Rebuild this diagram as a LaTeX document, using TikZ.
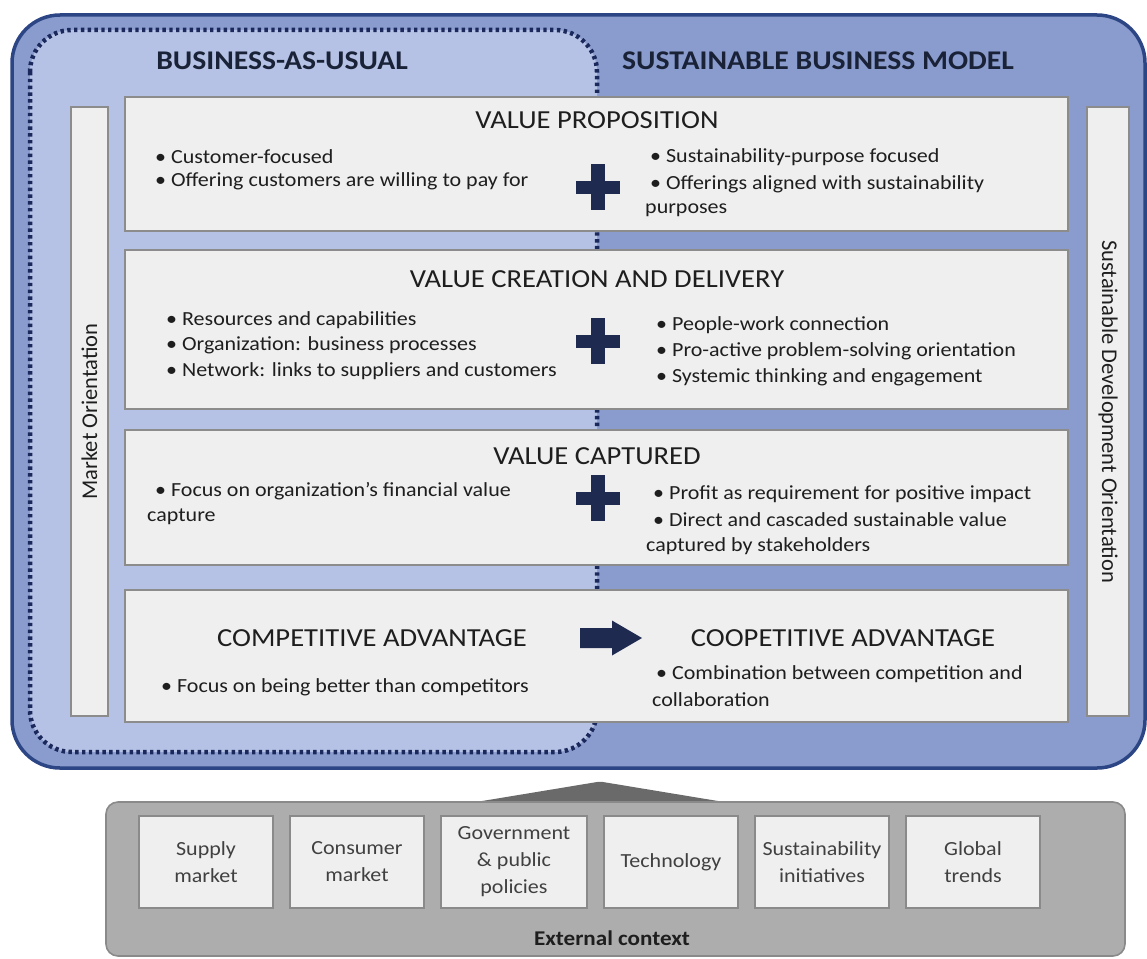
\documentclass[tikz,border=0pt]{standalone}
\usepackage{fontspec}
\setmainfont{Carlito}[FakeStretch=1.1]
\newfontfamily\sidefont{Carlito}
\definecolor{bluedark}{HTML}{2C4585}
\definecolor{bluemid}{HTML}{8A9CCD}
\definecolor{bluelight}{HTML}{B5C2E5}
\definecolor{dotcol}{HTML}{1A285C}
\definecolor{boxfill}{HTML}{EFEFEF}
\definecolor{boxline}{HTML}{8C8C8C}
\definecolor{navy}{HTML}{1F2A50}
\definecolor{ink}{HTML}{1E1E1E}
\definecolor{headink}{HTML}{1A2238}
\definecolor{grayouter}{HTML}{ADADAD}
\definecolor{grayline}{HTML}{8A8A8A}
\definecolor{mountain}{HTML}{6A6A6A}
\begin{document}
\begin{tikzpicture}[x=1pt,y=-1pt,
  every node/.style={inner sep=0pt, text=ink},
  panel/.style={draw=boxline, fill=boxfill, line width=2pt, rectangle},
  smallbox/.style={draw=grayline, fill=boxfill, line width=1.6pt, rectangle,
    minimum height=92pt, align=center, font=\fontsize{20}{27}\selectfont, text=ink!85},
  bodytext/.style={font=\fontsize{20}{26}\selectfont, anchor=west},
  titletext/.style={font=\fontsize{26}{30}\selectfont},
  headtext/.style={font=\bfseries\fontsize{27}{30}\selectfont, text=headink},
  sidetext/.style={font=\sidefont\fontsize{22.5}{26}\selectfont},
  dotline/.style={draw=dotcol, line width=4.5pt, line cap=butt, dash pattern=on 3.4pt off 3.4pt},
  darkshape/.style={fill=navy}]
\useasboundingbox (0,0) rectangle (1147,958);

% ---- main frame with the two regions ----
\path[fill=bluemid, rounded corners=48] (12,15) rectangle (1145,768);
\path[fill=bluelight, rounded corners=42] (30,30) rectangle (597,752);
\draw[dotline, rounded corners=42] (30,30) rectangle (597,752);
\draw[bluedark, line width=3.5pt, rounded corners=48] (12,15) rectangle (1145,768);

\node[headtext] (bau) at (282,61) {BUSINESS-AS-USUAL};
\node[headtext] (sbm) at (818,61) {SUSTAINABLE BUSINESS MODEL};

% ---- orientation bars ----
\node[panel, minimum width=37pt, minimum height=609pt] (mkt) at (89.5,411.5) {};
\node[sidetext, rotate=90] (mktlab) at (mkt.center) {Market Orientation};
\node[panel, minimum width=42pt, minimum height=609pt] (sdo) at (1108,411.5) {};
\node[sidetext, rotate=-90] (sdolab) at (sdo.center) {Sustainable Development Orientation};

% ---- value proposition ----
\node[panel, minimum width=943pt, minimum height=134pt] (vp) at (596.5,164) {};
\node[titletext] (vpt) at (597,120) {VALUE PROPOSITION};
\node[bodytext] (vpl1) at (155,157) {•~Customer-focused};
\node[bodytext] (vpl2) at (155,181) {•~Offering customers are willing to pay for};
\node[bodytext] (vpr1) at (650,157) {•~Sustainability-purpose focused};
\node[bodytext] (vpr2) at (650,184) {•~Offerings aligned with sustainability};
\node[bodytext] (vpr3) at (645,210) {purposes};

% ---- value creation and delivery ----
\node[panel, minimum width=943pt, minimum height=159pt] (vcd) at (596.5,329.5) {};
\node[titletext] (vcdt) at (597,279) {VALUE CREATION AND DELIVERY};
\node[bodytext] (vcdl1) at (166,320) {•~Resources and capabilities};
\node[bodytext] (vcdl2) at (166,345) {•~Organization: business processes};
\node[bodytext] (vcdl3) at (166,371) {•~Network: links to suppliers and customers};
\node[bodytext] (vcdr1) at (656,325) {•~People-work connection};
\node[bodytext] (vcdr2) at (656,351) {•~Pro-active problem-solving orientation};
\node[bodytext] (vcdr3) at (656,377) {•~Systemic thinking and engagement};

% ---- value captured ----
\node[panel, minimum width=943pt, minimum height=135pt] (vc) at (596.5,497.5) {};
\node[titletext] (vct) at (597,456) {VALUE CAPTURED};
\node[bodytext] (vcl1) at (155,491) {•~Focus on organization's financial value};
\node[bodytext] (vcl2) at (147,517) {capture};
\node[bodytext] (vcr1) at (653,494) {•~Profit as requirement for positive impact};
\node[bodytext] (vcr2) at (653,520) {•~Direct and cascaded sustainable value};
\node[bodytext] (vcr3) at (646,546) {captured by stakeholders};

% ---- competitive / coopetitive advantage ----
\node[panel, minimum width=943pt, minimum height=132pt] (ca) at (596.5,656) {};
\node[titletext] (cat) at (372,638) {COMPETITIVE ADVANTAGE};
\node[bodytext] (cal1) at (161,687) {•~Focus on being better than competitors};
\node[titletext] (coopt) at (843,638) {COOPETITIVE ADVANTAGE};
\node[bodytext] (coopl1) at (656,674) {•~Combination between competition and};
\node[bodytext] (coopl2) at (652,700) {collaboration};

% ---- plus signs ----
\foreach \cy in {187,341,498}{
  \fill[darkshape] (576,\cy-6.5) rectangle (620,\cy+6.5);
  \fill[darkshape] (591,\cy-23) rectangle (605,\cy+23);
}
% ---- block arrow ----
\fill[darkshape] (580,628) -- (612,628) -- (612,620.5) -- (642,638)
  -- (612,655.5) -- (612,648) -- (580,648) -- cycle;

% ---- external context ----
\fill[mountain] (470,803) -- (594,782.5) .. controls (600,781.5) .. (606,782.5) -- (730,803) -- cycle;
\node[draw=grayline, fill=grayouter, line width=1.6pt, rounded corners=12,
  minimum width=1019pt, minimum height=154pt] (ext) at (615.5,879) {};
\node[smallbox, minimum width=134pt] (supply) at (206,862) {Supply\\market};
\node[smallbox, minimum width=134pt] (consumer) at (357,862) {Consumer\\market};
\node[smallbox, minimum width=146pt] (gov) at (514,862) {Government\\\& public\\policies};
\node[smallbox, minimum width=134pt] (tech) at (671,862) {Technology};
\node[smallbox, minimum width=134pt] (sust) at (822,862) {Sustainability\\initiatives};
\node[smallbox, minimum width=134pt] (global) at (973,862) {Global\\trends};
\node[font=\bfseries\fontsize{21}{24}\selectfont] (extlab) at (612,938) {External context};
\end{tikzpicture}
\end{document}
